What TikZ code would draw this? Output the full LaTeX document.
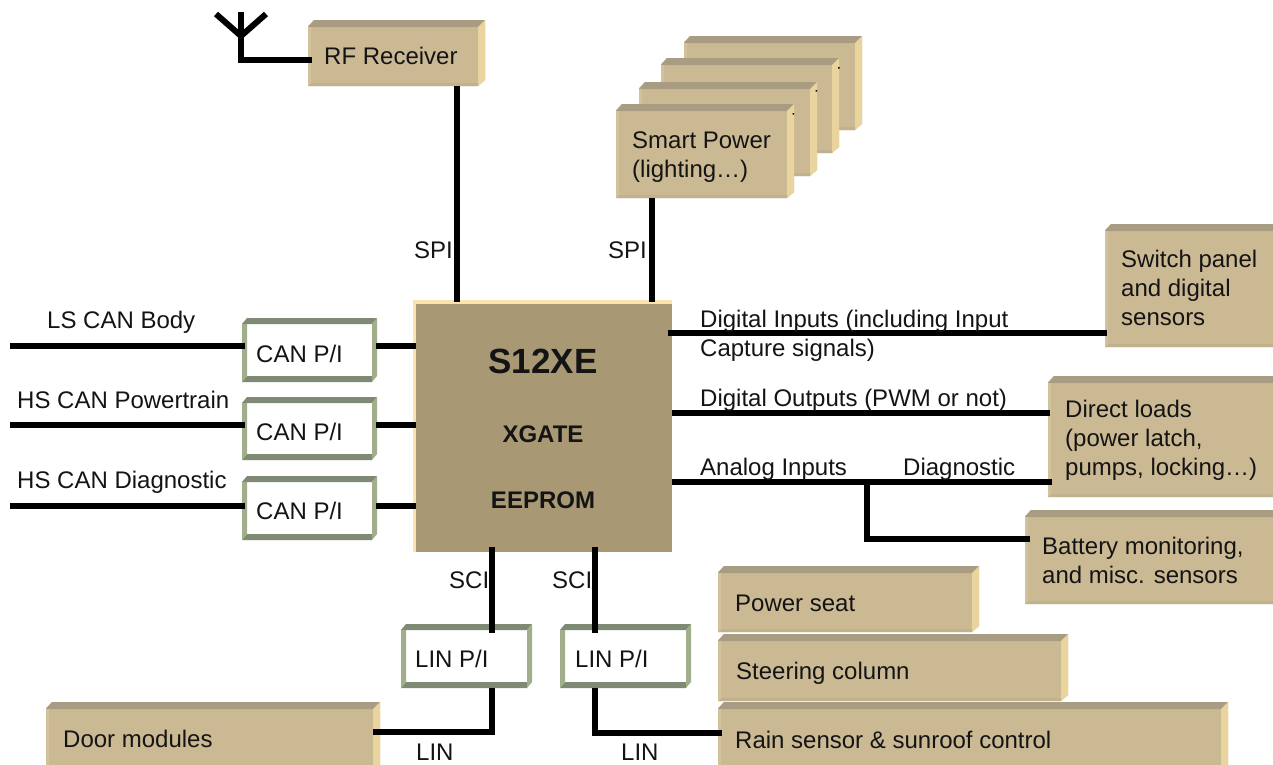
\documentclass[tikz,border=0pt]{standalone}
\usepackage{fontspec}
\setmainfont{Liberation Sans}
\definecolor{tanface}{HTML}{CBB994}
\definecolor{tantop}{HTML}{A89C82}
\definecolor{tanright}{HTML}{E8D49C}
\definecolor{tanbottom}{HTML}{C0B28E}
\definecolor{tanleft}{HTML}{D2C29C}
\definecolor{gdark}{HTML}{7F8A74}
\definecolor{glight}{HTML}{A0AE8C}
\definecolor{mainface}{HTML}{A89874}
\definecolor{mainedge}{HTML}{FBE3B0}
\tikzset{
  wire/.style={line width=6pt,draw=black,line cap=butt,line join=miter},
  lbl/.style={inner sep=0pt,anchor=base west,align=left,font=\fontsize{24}{29}\selectfont,text=black!92},
  frame/.style={inner sep=0pt,outer sep=0pt},
  bigb/.style={inner sep=0pt,font=\bfseries\fontsize{24}{29}\selectfont,text=black!92}
}
% name, x1, y1, x2, y2
\newcommand{\tanbox}[5]{%
  \fill[tanface] (#2,#3+6)--(#2+6,#3)--(#4,#3)--(#4,#5-6)--(#4-7,#5)--(#2,#5)--cycle;
  \fill[tantop] (#2,#3+7)--(#2+6,#3)--(#4,#3)--(#4-7,#3+7)--cycle;
  \fill[tanright] (#4-7,#3+7)--(#4,#3)--(#4,#5-6)--(#4-7,#5)--cycle;
  \fill[tanbottom] (#2,#5)--(#2+3,#5-3)--(#4-7,#5-3)--(#4-7,#5)--cycle;
  \fill[tanleft] (#2,#3+7)--(#2+3,#3+7)--(#2+3,#5-3)--(#2,#5)--cycle;
  \node[frame,minimum width={#4-#2},minimum height={#5-#3}] (#1) at ({(#2+#4)/2},{(#3+#5)/2}) {};
}
\newcommand{\pibox}[5]{%
  \fill[white] (#2,#3)rectangle(#4,#5);
  \fill[gdark] (#2,#3+6)--(#2+5,#3)--(#4,#3)--(#4-5,#3+6)--cycle;
  \fill[gdark] (#2,#5)--(#2+5,#5-6)--(#4-5,#5-6)--(#4-5,#5)--cycle;
  \fill[glight] (#2,#3+6)--(#2+5,#3+6)--(#2+5,#5-6)--(#2,#5)--cycle;
  \fill[glight] (#4-5,#3+6)--(#4,#3)--(#4,#5-6)--(#4-5,#5)--cycle;
  \node[frame,minimum width={#4-#2},minimum height={#5-#3}] (#1) at ({(#2+#4)/2},{(#3+#5)/2}) {};
}
\begin{document}
\begin{tikzpicture}[x=1pt,y=-1pt]
\useasboundingbox (0,0) rectangle (1273,764);
\clip (0,0) rectangle (1273,764);
% tan boxes
\tanbox{rf}{308}{20}{485}{86}
\tanbox{sp4}{684}{36}{862}{130}
\tanbox{sp3}{661}{58}{839}{153}
\tanbox{sp2}{639}{82}{817}{176}
\tanbox{sp1}{616}{104}{794}{198}
\fill (792.5,113) rectangle (794,114.5) (815.5,90) rectangle (817,91.5) (838,67) rectangle (839.5,68.5);
\tanbox{sw}{1105}{224}{1290}{347}
\tanbox{dl}{1048}{376}{1290}{497}
\tanbox{bat}{1025}{510}{1290}{604}
\tanbox{seat}{718}{566}{979}{632}
\tanbox{steer}{718}{634}{1068}{701}
\tanbox{rain}{718}{702}{1228}{775}
\tanbox{door}{46}{702}{380}{775}
% S12XE
\fill[mainedge] (413,300) rectangle (672,552);
\fill[mainface] (416,304) rectangle (672,552);
\node[frame,minimum width=256,minimum height=248] (main) at (544,428) {};
% P/I boxes
\pibox{can1}{242}{318}{377}{382}
\pibox{can2}{242}{397}{377}{460}
\pibox{can3}{242}{476}{377}{540}
\pibox{lin1}{401}{624}{532}{688}
\pibox{lin2}{560}{624}{691}{688}
% free ends
\coordinate (ls) at (10,346.3);
\coordinate (hsp) at (10,424.5);
\coordinate (hsd) at (10,505.5);
\coordinate (antb) at (241,60);
\coordinate (antt) at (241,12);
\coordinate (antj) at (241,36);
\coordinate (antl) at (216,14);
\coordinate (antr) at (266,14);
\coordinate (spia) at (457,302);
\coordinate (spib) at (652,302);
\coordinate (di) at (668,332.5);
\coordinate (do) at (672,412.5);
\coordinate (ai) at (672,482);
\coordinate (ajoin) at (867,482);
\coordinate (acorner) at (867,539);
\coordinate (scia) at (492,547);
\coordinate (scib) at (595,547);
\coordinate (lina) at (492,732);
\coordinate (linb) at (595,733);
% connectors
\draw[wire] (antt)--(antb)--([xshift=4pt]rf.west |- antb);
\draw[wire] (antl)--(antj)--(antr);
\draw[wire] (rf.south -| spia)--(spia);
\draw[wire] (sp1.south -| spib)--(spib);
\draw[wire] (ls)--([xshift=3pt]can1.west |- ls);
\draw[wire] ([xshift=-1pt]can1.east |- ls)--(main.west |- ls);
\draw[wire] (hsp)--([xshift=3pt]can2.west |- hsp);
\draw[wire] ([xshift=-1pt]can2.east |- hsp)--(main.west |- hsp);
\draw[wire] (hsd)--([xshift=3pt]can3.west |- hsd);
\draw[wire] ([xshift=-1pt]can3.east |- hsd)--(main.west |- hsd);
\draw[wire] (di)--([xshift=2pt]sw.west |- di);
\draw[wire] (do)--([xshift=2pt]dl.west |- do);
\draw[wire] (ai)--([xshift=4pt]dl.west |- ai);
\draw[wire] (ajoin)--(acorner)--([xshift=5pt]bat.west |- acorner);
\draw[wire] (scia)--([yshift=-9pt]lin1.north -| scia);
\draw[wire] (scib)--([yshift=-9pt]lin2.north -| scib);
\draw[wire] (lin1.south -| lina)--(lina)--([xshift=-7pt]door.east |- lina);
\draw[wire] (lin2.south -| linb)--(linb)--([xshift=4pt]rain.west |- linb);
% box texts
\node[lbl] (trf) at (324,64) {RF Receiver};
\node[lbl] (tsp) at (632,177) {Smart Power\\(lighting…)};
\node[lbl] (tsw) at (1121,325) {Switch panel\\and digital\\sensors};
\node[lbl] (tdl) at (1065,475) {Direct loads\\(power latch,\\pumps, locking…)};
\node[lbl] (tbat) at (1042,583) {Battery monitoring,\\and misc. sensors};
\node[lbl] (tseat) at (735,611) {Power seat};
\node[lbl] (tsteer) at (736,679) {Steering column};
\node[lbl] (train) at (735,748) {Rain sensor \& sunroof control};
\node[lbl] (tdoor) at (63,747) {Door modules};
\node[lbl] (tc1) at (256,362) {CAN P/I};
\node[lbl] (tc2) at (256,440) {CAN P/I};
\node[lbl] (tc3) at (256,519) {CAN P/I};
\node[lbl] (tl1) at (415,667) {LIN P/I};
\node[lbl] (tl2) at (575,667) {LIN P/I};
% main texts
\node[bigb,font=\bfseries\fontsize{35}{40}\selectfont] (ts) at (543,361) {S12XE};
\node[bigb] (tx) at (543,434) {XGATE};
\node[bigb] (te) at (543,500) {EEPROM};
% wire labels
\node[lbl] (l1) at (47,328) {LS CAN Body};
\node[lbl] (l2) at (17,408) {HS CAN Powertrain};
\node[lbl] (l3) at (17,488) {HS CAN Diagnostic};
\node[lbl] (l4) at (414,258) {SPI};
\node[lbl] (l5) at (608,258) {SPI};
\node[lbl] (l6) at (700,356) {Digital Inputs (including Input\\Capture signals)};
\node[lbl] (l7) at (700,406) {Digital Outputs (PWM or not)};
\node[lbl] (l8) at (700,475) {Analog Inputs};
\node[lbl] (l9) at (903,475) {Diagnostic};
\node[lbl] (l10) at (449,588) {SCI};
\node[lbl] (l11) at (552,588) {SCI};
\node[lbl] (l12) at (416,760) {LIN};
\node[lbl] (l13) at (621,760) {LIN};
\end{tikzpicture}
\end{document}
